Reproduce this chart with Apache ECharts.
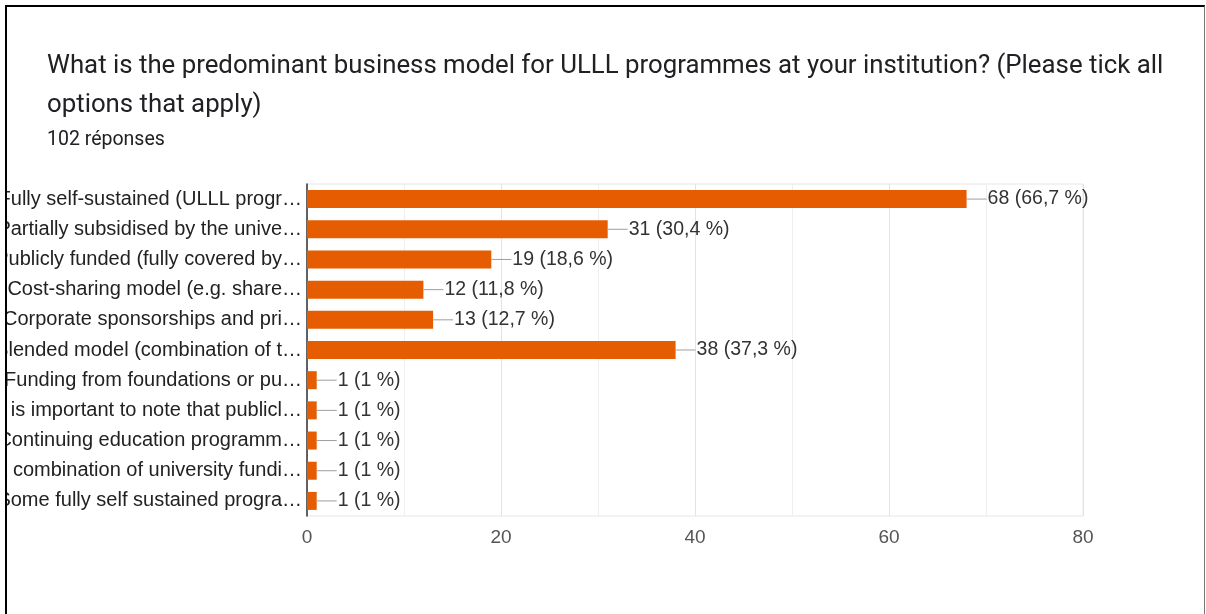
<!DOCTYPE html>
<html>
<head>
<meta charset="utf-8">
<script src="https://cdn.jsdelivr.net/npm/echarts@6/dist/echarts.min.js"></script>
<style>
  html, body { margin: 0; padding: 0; background: #fff; }
  body { width: 1206px; height: 614px; position: relative; overflow: hidden; }
  #frame {
    position: absolute; left: 5px; top: 5px; width: 1197px; height: 620px;
    border-left: 2px solid #000; border-top: 2px solid #000; border-right: 1px solid #777;
  }
  #chart { position: absolute; left: 7px; top: 7px; width: 1196px; height: 607px; }
</style>
</head>
<body>
<div id="frame"></div>
<div id="chart"></div>
<script>
// Answer options (as shown, truncated) and response counts
const categories = [
  'Fully self-sustained (ULLL progr…',
  'Partially subsidised by the unive…',
  'Publicly funded (fully covered by…',
  'Cost-sharing model (e.g. share…',
  'Corporate sponsorships and pri…',
  'Blended model (combination of t…',
  'Funding from foundations or pu…',
  'It is important to note that publicl…',
  'Continuing education programm…',
  'A combination of university fundi…',
  'Some fully self sustained progra…'
];
const counts = [68, 31, 19, 12, 13, 38, 1, 1, 1, 1, 1];
const percents = ['66,7', '30,4', '18,6', '11,8', '12,7', '37,3', '1', '1', '1', '1', '1'];
const xTicks = [0, 20, 40, 60, 80];

const chart = echarts.init(document.getElementById('chart'), null, { renderer: 'canvas' });

chart.setOption({
  animation: false,
  backgroundColor: '#fff',
  title: [
    {
      text: 'What is the predominant business model for ULLL programmes at your institution? (Please tick all\noptions that apply)',
      left: 35, top: 35,
      textStyle: { fontFamily: 'Roboto', fontSize: 25.8, fontWeight: 'normal', color: '#202124', lineHeight: 39 }
    },
    {
      text: '102 réponses',
      left: 35, top: 118,
      textStyle: { fontFamily: 'Roboto', fontSize: 19.5, fontWeight: 'normal', color: '#202124' }
    }
  ],
  grid: {
    left: 300, right: 120, top: 177, bottom: 98,
    outerBoundsMode: 'none', containLabel: false,
    show: true, borderColor: '#e6e6e6', borderWidth: 1
  },
  xAxis: {
    type: 'value',
    min: xTicks[0], max: xTicks[xTicks.length - 1], interval: 20,
    axisLine: { show: false },
    axisTick: { show: false },
    axisLabel: { fontFamily: 'Liberation Sans', fontSize: 19, color: '#555', margin: 12 },
    splitLine: { lineStyle: { color: '#e3e3e3', width: 1 } },
    minorTick: { show: false, splitNumber: 2 },
    minorSplitLine: { show: true, lineStyle: { color: '#efefef', width: 1 } }
  },
  yAxis: {
    type: 'category',
    inverse: true,
    data: categories,
    axisLine: { show: true, lineStyle: { color: '#333', width: 1.5 } },
    axisTick: { show: false },
    axisLabel: { fontFamily: 'Liberation Sans', fontSize: 20, color: '#222', margin: 5 }
  },
  series: [{
    type: 'bar',
    data: counts,
    barWidth: 18,
    itemStyle: { color: '#E65C00' },
    label: {
      show: true,
      position: 'right',
      distance: 0,
      formatter: (p) => '{l|}{t|' + counts[p.dataIndex] + ' (' + percents[p.dataIndex] + ' %)}',
      rich: {
        l: { width: 20, height: 1, backgroundColor: '#9e9e9e' },
        t: { fontFamily: 'Liberation Sans', fontSize: 19.5, color: '#333', padding: [0, 0, 0, 1] }
      }
    }
  }]
});
</script>
</body>
</html>
